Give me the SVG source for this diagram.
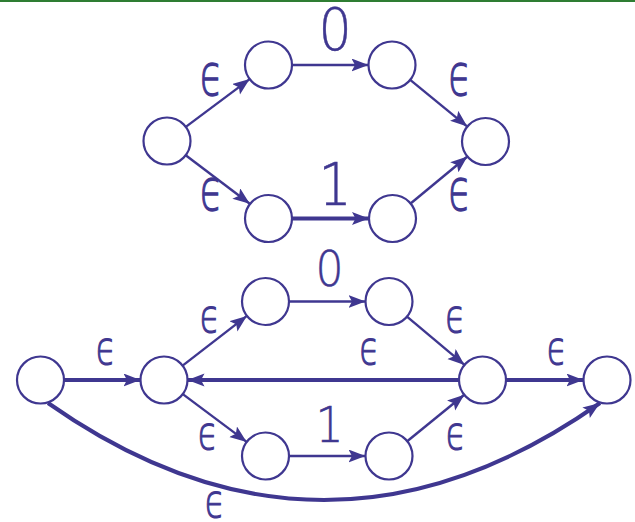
<svg xmlns="http://www.w3.org/2000/svg" width="635" height="522" viewBox="0 0 635 522">
<defs>
<style>
.n{fill:#fff;stroke:#3f3790;stroke-width:2.2}
.e{fill:none;stroke:#3f3790;stroke-width:2.4;marker-end:url(#ah)}
.t{stroke-width:4}
.l{fill:#3f3790;font-family:"DejaVu Sans",sans-serif;text-anchor:middle}
.eps{font-size:39px;font-weight:200;stroke:#3f3790;stroke-width:0.9}
.eps2{font-size:34px;font-weight:200;stroke:#3f3790;stroke-width:0.9}
.big{font-size:58px;font-weight:200;stroke:#3f3790;stroke-width:0.5}
.mid{font-size:49px;font-weight:200;stroke:#3f3790;stroke-width:0.5}
</style>
<marker id="ah" markerUnits="userSpaceOnUse" markerWidth="20" markerHeight="14" refX="17" refY="6.5" orient="auto">
<path d="M0,0 L17,6.5 L0,13 L3.5,6.5 z" fill="#3f3790"/>
</marker>
</defs>
<rect width="635" height="522" fill="#fff"/>
<line x1="0" y1="1" x2="635" y2="1" stroke="#2e7d32" stroke-width="2"/>
<g id="connectors">
<line class="e" x1="185.8" y1="126.9" x2="249.7" y2="79.1"/>
<line class="e" x1="185.7" y1="155.2" x2="249.8" y2="203.8"/>
<line class="e" x1="292" y1="65" x2="368.5" y2="65"/>
<line class="e t" x1="292" y1="218.5" x2="369" y2="218.5"/>
<line class="e" x1="410.2" y1="79.9" x2="467.3" y2="126.6"/>
<line class="e" x1="410.6" y1="203.5" x2="467.4" y2="156.5"/>
<line class="e t" x1="64" y1="380" x2="140.5" y2="380"/>
<line class="e" x1="182.6" y1="365.6" x2="246.9" y2="315.9"/>
<line class="e" x1="182.8" y1="394.1" x2="246.7" y2="441.9"/>
<line class="e" x1="289" y1="301.5" x2="365.5" y2="301.5"/>
<line class="e" x1="289" y1="456" x2="365.5" y2="456"/>
<line class="e" x1="407" y1="316.6" x2="464.5" y2="364.9"/>
<line class="e" x1="407.2" y1="441.2" x2="464.3" y2="394.8"/>
<line class="e t" x1="459" y1="380" x2="187.5" y2="380"/>
<line class="e t" x1="506" y1="380" x2="583.5" y2="380"/>
<path class="e t" d="M48,403 Q324,597 600,403"/>
</g>
<g id="labels">
<text class="l big" transform="translate(335,50) scale(0.9,1)">0</text>
<text class="l big" transform="translate(335,205) scale(0.9,1)">1</text>
<text class="l eps" transform="translate(211.5,95) scale(0.95,1.45)">ϵ</text>
<text class="l eps" transform="translate(211.5,210) scale(0.95,1.45)">ϵ</text>
<text class="l eps" transform="translate(460,95) scale(0.95,1.45)">ϵ</text>
<text class="l eps" transform="translate(460,210) scale(0.95,1.45)">ϵ</text>
<text class="l mid" transform="translate(329.5,286) scale(0.9,1)">0</text>
<text class="l mid" transform="translate(329.5,442) scale(0.9,1)">1</text>
<text class="l eps2" transform="translate(106,364) scale(0.95,1.35)">ϵ</text>
<text class="l eps2" transform="translate(210,332) scale(0.95,1.35)">ϵ</text>
<text class="l eps2" transform="translate(208,449) scale(0.95,1.35)">ϵ</text>
<text class="l eps2" transform="translate(455.5,332) scale(0.95,1.35)">ϵ</text>
<text class="l eps2" transform="translate(456,449) scale(0.95,1.35)">ϵ</text>
<text class="l eps2" transform="translate(369.5,364) scale(0.95,1.35)">ϵ</text>
<text class="l eps2" transform="translate(557,364) scale(0.95,1.35)">ϵ</text>
<text class="l eps2" transform="translate(215,517) scale(0.95,1.35)">ϵ</text>
</g>
<g id="nA"><circle class="n" cx="167" cy="141" r="23.5"/></g>
<g id="nB"><circle class="n" cx="268.5" cy="65" r="23.5"/></g>
<g id="nC"><circle class="n" cx="392" cy="65" r="23.5"/></g>
<g id="nD"><circle class="n" cx="485.5" cy="141.5" r="23.5"/></g>
<g id="nE"><circle class="n" cx="268.5" cy="218.5" r="23.5"/></g>
<g id="nF"><circle class="n" cx="392.5" cy="218.5" r="23.5"/></g>
<g id="nP"><circle class="n" cx="40.5" cy="380" r="23.5"/></g>
<g id="nQ"><circle class="n" cx="164" cy="380" r="23.5"/></g>
<g id="nT1"><circle class="n" cx="265.5" cy="301.5" r="23.5"/></g>
<g id="nT2"><circle class="n" cx="389" cy="301.5" r="23.5"/></g>
<g id="nB1"><circle class="n" cx="265.5" cy="456" r="23.5"/></g>
<g id="nB2"><circle class="n" cx="389" cy="456" r="23.5"/></g>
<g id="nR"><circle class="n" cx="482.5" cy="380" r="23.5"/></g>
<g id="nS"><circle class="n" cx="607" cy="380" r="23.5"/></g>
</svg>
